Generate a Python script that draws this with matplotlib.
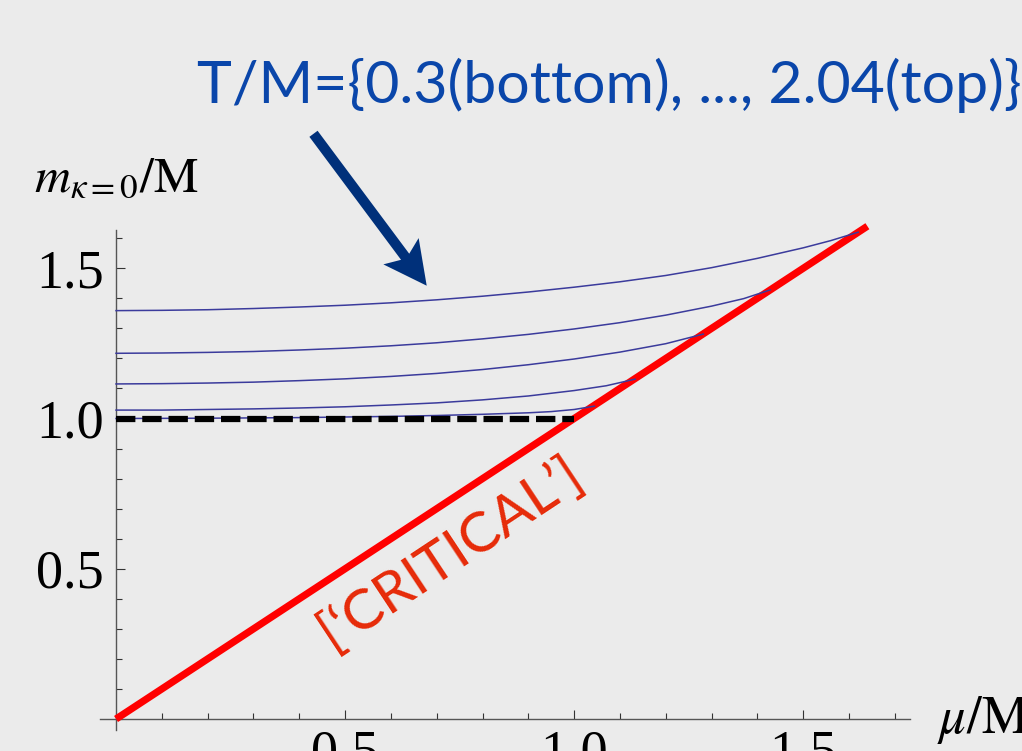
"""Chiral mass at zero momentum vs chemical potential, one curve per temperature."""
import matplotlib
matplotlib.use("Agg")
import matplotlib.pyplot as plt
from matplotlib.patches import Polygon
from matplotlib.ticker import MultipleLocator, FixedLocator, FormatStrFormatter
import numpy as np

W, H = 1022, 751
BG = "#EBEBEB"
CURVE = "#3B3B9C"
RED = "#FF0000"
LABEL_RED = "#E62A08"
TITLE_BLUE = "#0A46AA"
NAVY = "#00307A"

# m/M against mu/M, T/M = 0.3 (bottom) ... 2.04 (top)
mu_t1 = [0.0, 0.2, 0.4, 0.6, 0.7, 0.8, 0.9, 0.95, 1.0, 1.044]
m_t1 = [1.000, 1.001, 1.003, 1.007, 1.010, 1.014, 1.019, 1.023, 1.030, 1.041]

mu_t2 = [0.0, 0.1, 0.2, 0.3, 0.4, 0.5, 0.6, 0.7, 0.8, 0.9, 1.0, 1.07, 1.133]
m_t2 = [1.028, 1.028, 1.030, 1.032, 1.035, 1.039, 1.045, 1.052, 1.062,
        1.075, 1.093, 1.109, 1.131]

mu_t3 = [0.0, 0.1, 0.2, 0.3, 0.4, 0.5, 0.6, 0.7, 0.8, 0.9, 1.0, 1.1, 1.2,
         1.282]
m_t3 = [1.115, 1.116, 1.118, 1.121, 1.126, 1.132, 1.140, 1.150, 1.163,
        1.179, 1.198, 1.221, 1.249, 1.281]

mu_t4 = [0.0, 0.1, 0.2, 0.3, 0.4, 0.5, 0.6, 0.7, 0.8, 0.9, 1.0, 1.1, 1.2,
         1.3, 1.37, 1.428]
m_t4 = [1.217, 1.218, 1.220, 1.223, 1.228, 1.234, 1.242, 1.252, 1.265,
        1.280, 1.298, 1.319, 1.344, 1.374, 1.399, 1.428]

mu_t5 = [0.0, 0.1, 0.2, 0.3, 0.4, 0.5, 0.6, 0.7, 0.8, 0.9, 1.0, 1.1, 1.2,
         1.3, 1.4, 1.5, 1.56, 1.62]
m_t5 = [1.359, 1.360, 1.362, 1.366, 1.371, 1.377, 1.385, 1.395, 1.407,
        1.421, 1.437, 1.455, 1.476, 1.502, 1.533, 1.568, 1.592, 1.620]

# critical line m = mu and the vacuum mass m = M
mu_crit = [0.0, 1.64]
m_crit = [0.0, 1.64]
mu_vac = [0.0, 1.0]
m_vac = [1.0, 1.0]

XTICKS = [0.5, 1.0, 1.5]
YTICKS = [0.5, 1.0, 1.5]

plt.rcParams["mathtext.fontset"] = "stix"

fig = plt.figure(figsize=(W / 100, H / 100), dpi=100, facecolor=BG)
# axes box in pixels: x from 100 to 910, y (from top) from 230 to 729.5
ax = fig.add_axes([100 / W, 21.5 / H, 810 / W, 499.7 / H])
ax.set_facecolor(BG)
ax.set_xlim(-0.035, 1.733)
ax.set_ylim(-0.035, 1.628)

for s in ("top", "right"):
    ax.spines[s].set_visible(False)
for s in ("left", "bottom"):
    ax.spines[s].set_position(("data", 0))
    ax.spines[s].set_color("#555555")
    ax.spines[s].set_linewidth(1.0)

ax.xaxis.set_major_locator(FixedLocator(XTICKS))
ax.yaxis.set_major_locator(FixedLocator(YTICKS))
ax.xaxis.set_minor_locator(MultipleLocator(0.1))
ax.yaxis.set_minor_locator(MultipleLocator(0.1))
ax.xaxis.set_major_formatter(FormatStrFormatter("%.1f"))
ax.yaxis.set_major_formatter(FormatStrFormatter("%.1f"))
ax.tick_params(which="both", direction="in", color="#333333", width=0.8)
ax.tick_params(which="major", length=6.5)
ax.tick_params(which="minor", length=4)
ax.tick_params(axis="x", which="major", pad=7)
ax.tick_params(axis="y", which="major", pad=9)
for lab in ax.get_xticklabels() + ax.get_yticklabels():
    lab.set_fontfamily("Liberation Serif")
    lab.set_fontsize(39)

for mu, m in ((mu_t1, m_t1), (mu_t2, m_t2), (mu_t3, m_t3),
              (mu_t4, m_t4), (mu_t5, m_t5)):
    ax.plot(mu, m, color=CURVE, lw=1.1, zorder=4)

ax.plot(mu_crit, m_crit, color=RED, lw=5.2, solid_capstyle="butt",
        clip_on=False, zorder=3)
ax.plot(mu_vac, m_vac, color="black", lw=4.5, dashes=(3.1, 1.1),
        dash_capstyle="butt", zorder=5)

ax.text(0.731, 0.552, "[\u2018CRITICAL\u2019]", color=LABEL_RED,
        fontfamily="Lato", fontsize=41, rotation=33.5,
        rotation_mode="anchor", ha="center", va="center")

fig.text(34 / W, 1 - 191.7 / H, r"$m_{\kappa=0}/\mathrm{M}$",
         fontsize=36, va="baseline", ha="left")
fig.text(937 / W, 1 - 733 / H, r"$\mu/\mathrm{M}$",
         fontsize=38, va="baseline", ha="left")

fig.text(197 / W, 1 - 102.7 / H, "T/M={0.3(bottom), ..., 2.04(top)}",
         color=TITLE_BLUE, fontfamily="Lato", fontsize=42.5,
         va="baseline", ha="left")


def arrow_poly(tail, tip, half_shaft, half_head, head_len, notch):
    """Notched arrow outline in image pixels (y down)."""
    tail = np.asarray(tail, float)
    tip = np.asarray(tip, float)
    d = tip - tail
    length = np.hypot(*d)
    u = d / length
    n = np.array([-u[1], u[0]])
    a_base = length - head_len
    a_join = a_base + notch * (1 - half_shaft / half_head)
    pts = [(0, -half_shaft), (a_join, -half_shaft), (a_base, -half_head),
           (length, 0), (a_base, half_head), (a_join, half_shaft),
           (0, half_shaft)]
    return [tail + a * u + p * n for a, p in pts]


pix = arrow_poly((313.5, 133.8), (426.7, 285.7), 5.1, 22, 43, 9)
fig.patches.append(Polygon([(x / W, 1 - y / H) for x, y in pix],
                           closed=True, transform=fig.transFigure,
                           facecolor=NAVY, edgecolor="none"))

fig.savefig("out.png", dpi=100, facecolor=BG)
